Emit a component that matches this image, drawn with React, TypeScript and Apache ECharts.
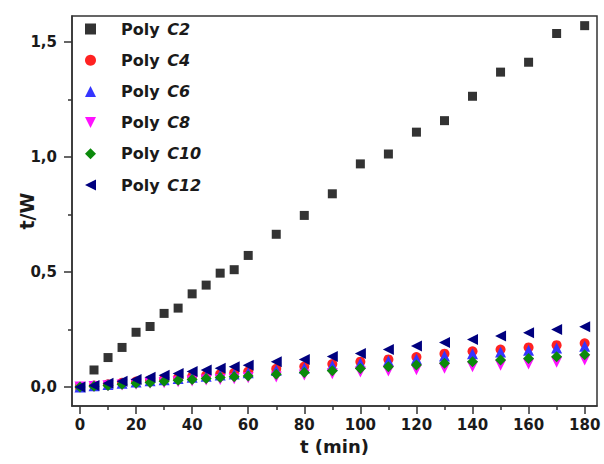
import React, { useEffect, useRef } from "react";
import * as echarts from "echarts";

const tValues = [0, 5, 10, 15, 20, 25, 30, 35, 40, 45, 50, 55, 60, 70, 80, 90, 100, 110, 120, 130, 140, 150, 160, 170, 180];
const polyC2 = [0, 0.074, 0.128, 0.172, 0.238, 0.263, 0.32, 0.343, 0.405, 0.443, 0.495, 0.51, 0.572, 0.664, 0.746, 0.84, 0.97, 1.013, 1.108, 1.158, 1.264, 1.369, 1.412, 1.537, 1.571];
const polyC4 = [0, 0.006, 0.012, 0.018, 0.024, 0.029, 0.035, 0.04, 0.046, 0.051, 0.056, 0.062, 0.067, 0.079, 0.089, 0.1, 0.11, 0.12, 0.13, 0.145, 0.155, 0.163, 0.172, 0.182, 0.19];
const polyC6 = [0, 0.005, 0.011, 0.016, 0.022, 0.027, 0.032, 0.037, 0.042, 0.047, 0.052, 0.057, 0.062, 0.073, 0.083, 0.093, 0.103, 0.113, 0.122, 0.135, 0.145, 0.152, 0.16, 0.17, 0.177];
const polyC8 = [0, 0.002, 0.005, 0.009, 0.012, 0.016, 0.019, 0.023, 0.026, 0.03, 0.033, 0.036, 0.04, 0.043, 0.052, 0.058, 0.065, 0.07, 0.075, 0.081, 0.088, 0.095, 0.1, 0.108, 0.117];
const polyC10 = [0, 0.003, 0.007, 0.012, 0.016, 0.02, 0.025, 0.029, 0.033, 0.037, 0.041, 0.045, 0.048, 0.055, 0.063, 0.071, 0.08, 0.088, 0.096, 0.103, 0.11, 0.117, 0.124, 0.132, 0.14];
const polyC12 = [0, 0.007, 0.016, 0.025, 0.033, 0.042, 0.051, 0.059, 0.067, 0.074, 0.081, 0.088, 0.095, 0.11, 0.12, 0.133, 0.146, 0.163, 0.178, 0.193, 0.207, 0.222, 0.236, 0.25, 0.262];

const xMajorTicks = [0, 20, 40, 60, 80, 100, 120, 140, 160, 180];
const xMinorTicks = [10, 30, 50, 70, 90, 110, 130, 150, 170];
const yMajorTicks = [0, 0.5, 1.0, 1.5];
const yMinorTicks = [0.25, 0.75, 1.25];

const FONT = "DejaVu Sans";
const AXIS_COLOR = "#333333";
const TEXT_COLOR = "#1a1a1a";

const seriesDefs = [
  { name: "Poly C2", values: polyC2, symbol: "rect", legendIcon: "rect", size: 9, rotate: 0, color: "#333333" },
  { name: "Poly C4", values: polyC4, symbol: "circle", legendIcon: "circle", size: 10, rotate: 0, color: "#ff2222" },
  { name: "Poly C6", values: polyC6, symbol: "triangle", legendIcon: "triangle", size: 11, rotate: 0, color: "#3535ff" },
  { name: "Poly C8", values: polyC8, symbol: "triangle", legendIcon: "path://M0,0 L10,0 L5,10 Z", size: 11, rotate: 180, color: "#ff11ff" },
  { name: "Poly C10", values: polyC10, symbol: "diamond", legendIcon: "diamond", size: 11, rotate: 0, color: "#0b8a0b" },
  { name: "Poly C12", values: polyC12, symbol: "triangle", legendIcon: "path://M10,0 L0,5 L10,10 Z", size: 11, rotate: 90, color: "#00007f" },
];

const X_MIN = -2.85;
const X_MAX = 184.4;
const Y_MIN = -0.0826;
const Y_MAX = 1.613;

export default function App() {
  const ref = useRef<HTMLDivElement>(null);

  useEffect(() => {
    document.body.style.margin = "0";
    if (!ref.current) return;
    const chart = echarts.init(ref.current, undefined, { renderer: "svg" });
    const fmt = (v: number) => v.toFixed(1).replace(".", ",");
    chart.setOption({
      animation: false,
      backgroundColor: "#ffffff",
      grid: {
        left: 72,
        right: 7,
        top: 16,
        bottom: 58,
        containLabel: false,
        outerBoundsMode: "none",
        show: true,
        borderColor: AXIS_COLOR,
        borderWidth: 1.5,
        backgroundColor: "transparent",
      },
      legend: {
        orient: "vertical",
        left: 85,
        top: 20,
        padding: 0,
        itemWidth: 11,
        itemHeight: 11,
        itemGap: 13.2,
        data: seriesDefs.map((s) => ({ name: s.name, icon: s.legendIcon })),
        formatter: (name: string) => `{g| }{p|Poly }{c|${name.replace("Poly ", "")}}`,
        textStyle: {
          color: TEXT_COLOR,
          fontFamily: FONT,
          fontWeight: "bold",
          fontSize: 16,
          lineHeight: 18,
          rich: {
            g: { width: 20, fontSize: 16, lineHeight: 18 },
            p: { fontFamily: FONT, fontWeight: "bold", fontSize: 16, color: TEXT_COLOR, lineHeight: 18 },
            c: { fontFamily: FONT, fontWeight: "bold", fontStyle: "italic", fontSize: 16, color: TEXT_COLOR, lineHeight: 18, padding: [0, 0, 0, 2] },
          },
        },
      },
      xAxis: [
        {
          type: "value",
          min: X_MIN,
          max: X_MAX,
          name: "t (min)",
          nameLocation: "middle",
          nameGap: 31,
          nameMoveOverlap: false,
          nameTextStyle: { fontFamily: FONT, fontWeight: "bold", fontSize: 18, color: TEXT_COLOR },
          axisLine: { show: true, onZero: false, lineStyle: { color: AXIS_COLOR, width: 1.5 } },
          axisTick: { show: true, inside: false, length: 8, customValues: xMajorTicks, lineStyle: { color: AXIS_COLOR, width: 1.5 } },
          axisLabel: {
            show: true,
            customValues: xMajorTicks,
            margin: 11,
            fontFamily: FONT,
            fontWeight: "bold",
            fontSize: 15,
            color: TEXT_COLOR,
            formatter: (v: number) => String(Math.round(v)),
          },
          splitLine: { show: false },
        },
        {
          type: "value",
          min: X_MIN,
          max: X_MAX,
          position: "bottom",
          axisLine: { show: false, onZero: false },
          axisTick: { show: true, inside: false, length: 4, customValues: xMinorTicks, lineStyle: { color: AXIS_COLOR, width: 1.5 } },
          axisLabel: { show: false },
          splitLine: { show: false },
        },
      ],
      yAxis: [
        {
          type: "value",
          min: Y_MIN,
          max: Y_MAX,
          name: "t/W",
          nameLocation: "middle",
          nameGap: 36,
          nameMoveOverlap: false,
          nameTextStyle: { fontFamily: FONT, fontWeight: "bold", fontSize: 19, color: TEXT_COLOR },
          axisLine: { show: true, onZero: false, lineStyle: { color: AXIS_COLOR, width: 1.5 } },
          axisTick: { show: true, inside: false, length: 8, customValues: yMajorTicks, lineStyle: { color: AXIS_COLOR, width: 1.5 } },
          axisLabel: {
            show: true,
            customValues: yMajorTicks,
            margin: 15,
            fontFamily: FONT,
            fontWeight: "bold",
            fontSize: 15,
            color: TEXT_COLOR,
            formatter: (v: number) => fmt(v),
          },
          splitLine: { show: false },
        },
        {
          type: "value",
          min: Y_MIN,
          max: Y_MAX,
          position: "left",
          axisLine: { show: false, onZero: false },
          axisTick: { show: true, inside: false, length: 4, customValues: yMinorTicks, lineStyle: { color: AXIS_COLOR, width: 1.5 } },
          axisLabel: { show: false },
          splitLine: { show: false },
        },
      ],
      series: seriesDefs.map((s) => ({
        name: s.name,
        type: "scatter",
        xAxisIndex: 0,
        yAxisIndex: 0,
        symbol: s.symbol,
        symbolSize: s.size,
        symbolRotate: s.rotate,
        itemStyle: { color: s.color, opacity: 1 },
        data: tValues.map((t, i) => [t, s.values[i]]),
      })),
    });
    return () => chart.dispose();
  }, []);

  return <div ref={ref} style={{ width: 604, height: 464 }} />;
}
